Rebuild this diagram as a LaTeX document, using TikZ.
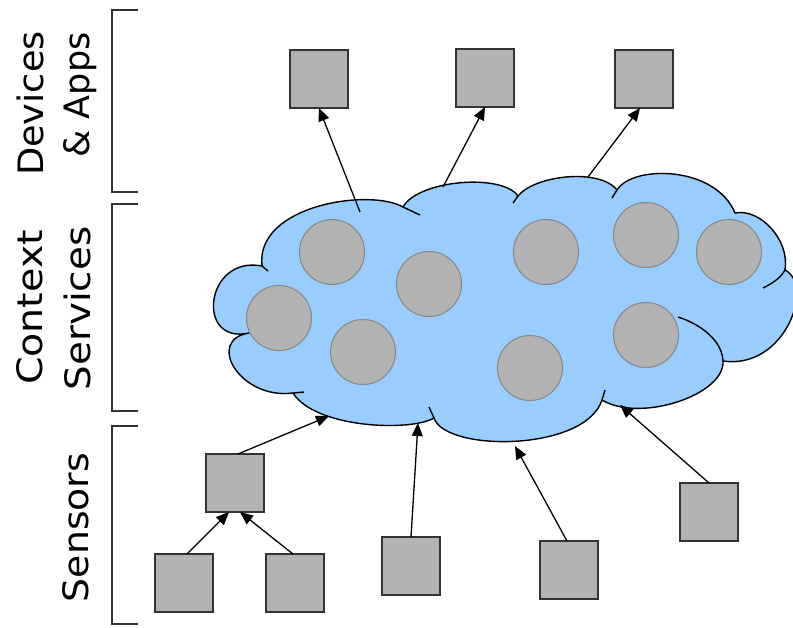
\documentclass[tikz,border=0pt]{standalone}
\usepackage{fontspec}
\newfontfamily\lblfont{DejaVu Sans}
\usetikzlibrary{arrows.meta}
\definecolor{cloudblue}{HTML}{99CCFF}
\definecolor{boxgray}{HTML}{B3B3B3}
\definecolor{boxedge}{HTML}{333333}
\definecolor{circedge}{HTML}{888888}
\tikzset{
  sqbox/.style={draw=boxedge, fill=boxgray, line width=2pt, minimum size=58pt, inner sep=0pt, outer sep=0pt},
  svc/.style={draw=circedge, fill=boxgray, line width=1.1pt},
  cloudfill/.style={fill=cloudblue, draw=black, line width=1.4pt, line join=round},
  tailline/.style={draw=black, line width=1.4pt},
  conn/.style={draw=black, line width=1.3pt, -{Triangle[length=13pt,width=11pt]}},
  brk/.style={draw=boxedge, line width=1.8pt},
  lbl/.style={rotate=90, anchor=base, inner sep=0pt, font=\lblfont\fontsize{35}{42}\selectfont}
}
\begin{document}
\begin{tikzpicture}[x=1pt, y=-1pt]
\useasboundingbox (0,0) rectangle (793,627);
% cloud
\begin{scope}
\clip (0,0) rectangle (793,627);
\path[cloudfill]
  (249,333) .. controls (195,345) and (205,255) .. (262,266)
  .. controls (255,205) and (370,188) .. (403,207)
  .. controls (418,180) and (502,173) .. (518,196)
  .. controls (535,175) and (600,168) .. (617,190)
  .. controls (632,165) and (715,165) .. (735,213)
  .. controls (760,208) and (790,240) .. (785,270)
  .. controls (815,285) and (785,370) .. (723,361)
  .. controls (725,395) and (640,423) .. (602,400)
  .. controls (585,452) and (445,452) .. (434,418)
  .. controls (410,432) and (315,428) .. (293,393)
  .. controls (240,400) and (205,340) .. (249,333)
  -- cycle;
\end{scope}
% cloud tails
\draw[tailline] (262,266) -- (268,271);
\draw[tailline] (403,207) -- (420,215);
\draw[tailline] (518,196) -- (513,203);
\draw[tailline] (617,190) -- (612,198);
\draw[tailline] (785,270) .. controls (780,279) and (771,284) .. (763,288);
\draw[tailline] (723,361) .. controls (722,340) and (700,324) .. (678,317);
\draw[tailline] (602,400) -- (605,390);
\draw[tailline] (434,418) -- (429,407);
\draw[tailline] (293,393) -- (304,392);
% services
\foreach \n/\p in {s1/{(332,252)}, s2/{(429,284)}, s3/{(279,318)}, s4/{(363,352)}, s5/{(546,252)}, s6/{(646,235)}, s7/{(729,252)}, s8/{(646,335)}, s9/{(530,368)}}
  \path[svc] \p circle[radius=32.5pt];
% boxes
\node[sqbox] (t1) at (319,79) {};
\node[sqbox] (t2) at (485,78) {};
\node[sqbox] (t3) at (644,79) {};
\node[sqbox] (m) at (235,483) {};
\node[sqbox] (b1) at (184,583) {};
\node[sqbox] (b2) at (295,583) {};
\node[sqbox] (b3) at (411,566) {};
\node[sqbox] (b4) at (569,570) {};
\node[sqbox] (b5) at (709,512) {};
% cloud anchor points
\coordinate (c1) at (360,212);
\coordinate (c2) at (443,187);
\coordinate (c3) at (588,177);
\coordinate (c4) at (329,416);
\coordinate (c5) at (418,423);
\coordinate (c6) at (515,446);
\coordinate (c7) at (620,405);
% connectors
\draw[conn] (c1) -- (t1.south);
\draw[conn] (c2) -- (t2.south);
\draw[conn] (c3) -- ([xshift=-4pt]t3.south);
\draw[conn] ([xshift=3pt]m.north) -- (c4);
\draw[conn] ([xshift=3pt]b1.north) -- ([xshift=-6pt]m.south);
\draw[conn] ([xshift=-2pt]b2.north) -- ([xshift=5pt]m.south);
\draw[conn] (b3.north) -- (c5);
\draw[conn] ([xshift=-2pt]b4.north) -- (c6);
\draw[conn] (b5.north) -- (c7);
% brackets
\draw[brk] (138,10) -- (112,10) -- (112,192) -- (138,192);
\draw[brk] (138,204) -- (112,204) -- (112,411) -- (138,411);
\draw[brk] (138,426) -- (112,426) -- (112,624) -- (138,624);
% labels
\node[lbl] (lDev) at (43,103.5) {\scalebox{1.05}[1]{Devices}};
\node[lbl] (lApp) at (89,95) {\scalebox{1.0}[1]{\&\ Apps}};
\node[lbl] (lCon) at (42,307.5) {\scalebox{1.13}[1]{Context}};
\node[lbl] (lSer) at (90,308.5) {\scalebox{1.11}[1]{Services}};
\node[lbl] (lSen) at (88,527.5) {\scalebox{1.08}[1]{Sensors}};
\end{tikzpicture}
\end{document}
